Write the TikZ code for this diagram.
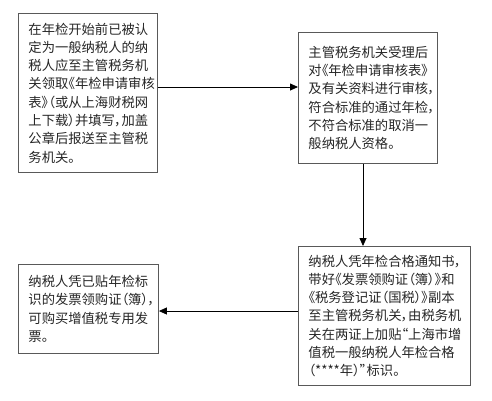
\documentclass[tikz,border=0pt]{standalone}
\usepackage{fontspec}
\setmainfont{Noto Sans CJK SC}[RawFeature={+palt}]
\usetikzlibrary{arrows.meta}
\begin{document}
\begin{tikzpicture}[x=1pt,y=-1pt,
  box/.style={draw=black!65,line width=0.9pt,anchor=north west,inner xsep=10pt,inner ysep=0pt,
    align=left,font=\fontsize{13.3}{18.3}\selectfont,text=black!85},
  conn/.style={draw=black,line width=0.8pt,-{Triangle[length=8pt,width=7pt]}}]
\useasboundingbox (0,0) rectangle (492,400);
\node[box,minimum width=139pt,minimum height=159pt,text width=119pt] (b1) at (18,13)
  {在年检开始前已被认\\定为一般纳税人的纳\\税人应至主管税务机\\关领取《年检申请审核\\表》（或从上海财税网\\上下载）并填写，加盖\\公章后报送至主管税\\务机关。};
\node[box,minimum width=139pt,minimum height=131pt,text width=119pt] (b2) at (298,32)
  {主管税务机关受理后\\对《年检申请审核表》\\及有关资料进行审核，\\符合标准的通过年检，\\不符合标准的取消一\\般纳税人资格。};
\node[box,minimum width=172pt,minimum height=139pt,text width=152pt] (b3) at (298,246)
  {纳税人凭年检合格通知书，\\带好《发票领购证（簿）》和\\《税务登记证（国税）》副本\\至主管税务机关，由税务机\\关在两证上加贴“上海市增\\值税一般纳税人年检合格\\（****年）”标识。};
\node[box,minimum width=140pt,minimum height=89pt,text width=120pt] (b4) at (18,264)
  {纳税人凭已贴年检标\\识的发票领购证（簿），\\可购买增值税专用发\\票。};
\draw[conn] (b1.east |- 0,87) -- (b2.west |- 0,87);
\draw[conn] (b2.south -| 363,0) -- (b3.north -| 363,0);
\draw[conn] (b3.west |- 0,311) -- (b4.east |- 0,311);
\end{tikzpicture}
\end{document}
